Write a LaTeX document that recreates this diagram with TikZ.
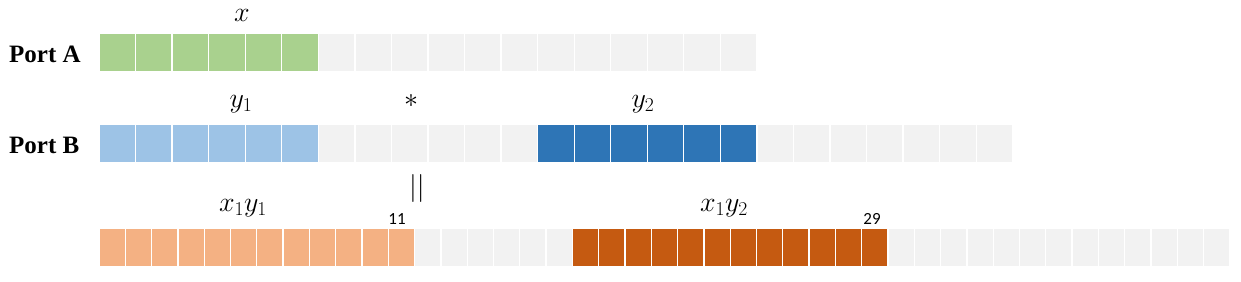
\RequirePackage{fix-cm}
\documentclass[tikz,border=0pt]{standalone}
\usepackage{fontspec}
\setmainfont{Liberation Serif}
\newfontfamily\numfont{Carlito}
\definecolor{cgreen}{HTML}{A9D18E}
\definecolor{clblue}{HTML}{9DC3E6}
\definecolor{cdblue}{HTML}{2E75B6}
\definecolor{clorange}{HTML}{F4B183}
\definecolor{cdorange}{HTML}{C55A11}
\definecolor{cgray}{HTML}{F2F2F2}
\tikzset{
  cell/.style={draw=white, line width=1.3pt},
  portlabel/.style={anchor=base west, inner sep=0pt, font=\fontsize{25}{28}\selectfont\bfseries},
  mathlabel/.style={inner sep=0pt, font=\fontsize{28}{32}\selectfont},
  numlabel/.style={inner sep=0pt, font=\fontsize{17}{19}\selectfont\numfont},
}
\begin{document}
\begin{tikzpicture}[x=1pt,y=-1pt]
\useasboundingbox (0,0) rectangle (1241,281);
% Row 1: Port A
\foreach \i in {0,...,17}{
  \pgfmathsetmacro{\xa}{99+36.55*\i}
  \ifnum\i<6 \def\cc{cgreen}\else\def\cc{cgray}\fi
  \path[cell, fill=\cc] (\xa,33.5) rectangle ++(36.55,38);
}
% Row 2: Port B
\foreach \i in {0,...,24}{
  \pgfmathsetmacro{\xa}{99+36.55*\i}
  \def\cc{cgray}
  \ifnum\i<6 \def\cc{clblue}\fi
  \ifnum\i>11 \ifnum\i<18 \def\cc{cdblue}\fi\fi
  \path[cell, fill=\cc] (\xa,124.5) rectangle ++(36.55,38.5);
}
% Row 3: product
\foreach \i in {0,...,42}{
  \pgfmathsetmacro{\xa}{99+26.3*\i}
  \def\cc{cgray}
  \ifnum\i<12 \def\cc{clorange}\fi
  \ifnum\i>17 \ifnum\i<30 \def\cc{cdorange}\fi\fi
  \path[cell, fill=\cc] (\xa,228.5) rectangle ++(26.3,38.5);
}
\node[portlabel] (pa) at (9,62) {Port A};
\node[portlabel] (pb) at (9,153) {Port B};
\node[mathlabel] (lx) at (242,15) {$x$};
\node[mathlabel] (ly1) at (241,104) {$y_1$};
\node[mathlabel] (star) at (411,101) {$*$};
\node[mathlabel] (ly2) at (643,104) {$y_2$};
\node[mathlabel] (eq) at (417,188) {$||$};
\node[mathlabel] (lx1y1) at (243,208) {$x_1y_1$};
\node[mathlabel] (lx1y2) at (724,208) {$x_1y_2$};
\node[numlabel] (n11) at (397,219) {11};
\node[numlabel] (n29) at (872,219) {29};
\end{tikzpicture}
\end{document}
